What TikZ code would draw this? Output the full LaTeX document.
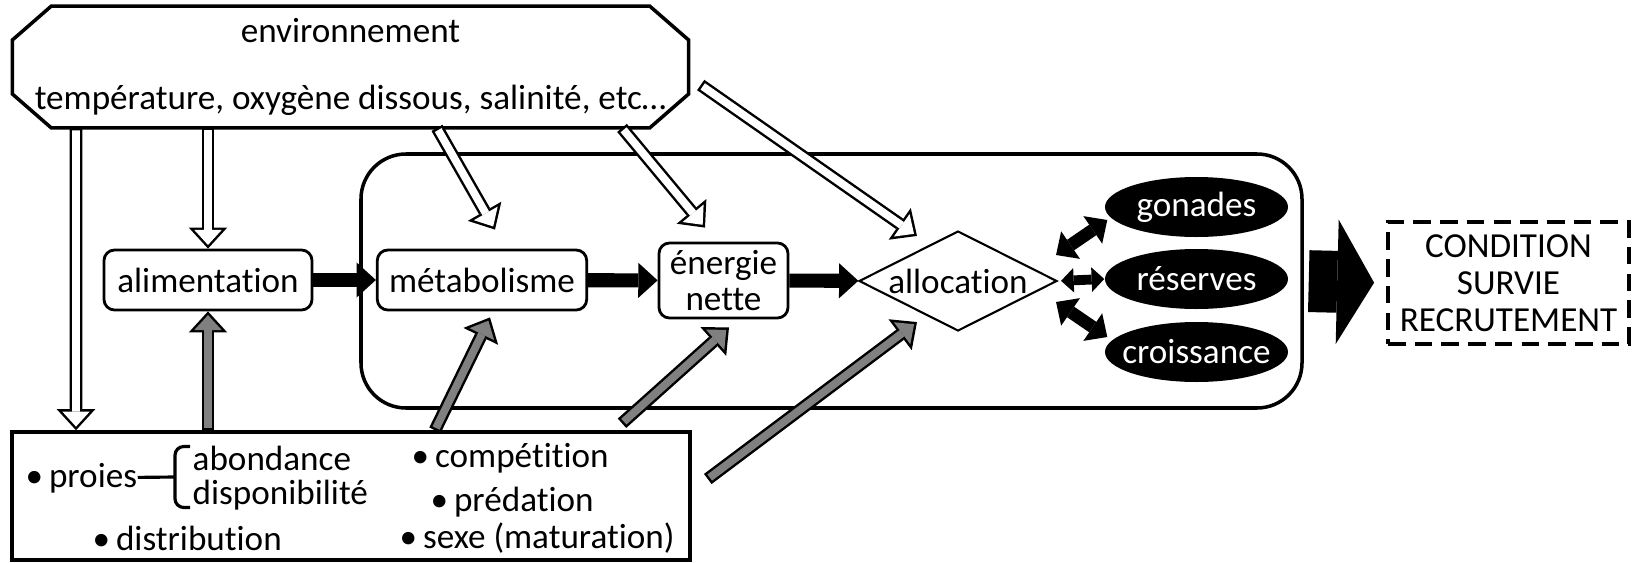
\documentclass[tikz,border=0pt]{standalone}
\usepackage{fontspec}
\setmainfont{Carlito}[Ligatures=NoCommon]
\definecolor{fedgray}{RGB}{128,128,128}
\usetikzlibrary{arrows.meta,positioning,shapes.geometric,calc}
\tikzset{
  stepbox/.style={draw, rounded corners=3pt, line width=0.8pt, minimum height=0.6cm, align=center, font=\fontsize{10}{10.5}\selectfont},
  pool/.style={ellipse, fill=black, text=white, minimum width=1.83cm, minimum height=0.6cm, inner sep=0pt},
  item/.style={anchor=west, inner sep=0pt},
  hollow/.style={line width=3.6pt, draw=black, -{Triangle[length=6pt, width=11pt, line width=0pt]},
    postaction={draw=white, line width=2.2pt, shorten >=1.04pt, shorten <=0.7pt, -{Triangle[length=4.26pt, width=7.8pt, line width=0pt]}}},
  fed/.style={line width=3.6pt, draw=black, -{Triangle[length=6pt, width=11pt, line width=0pt]},
    postaction={draw=fedgray, line width=2.2pt, shorten >=1.04pt, shorten <=0.7pt, -{Triangle[length=4.26pt, width=7.8pt, line width=0pt]}}},
  flow/.style={line width=4pt, -{Triangle[length=5.5pt, width=10pt, line width=0pt]}},
  both/.style={line width=3.6pt, {Triangle[length=5pt, width=9.5pt, line width=0pt]}-{Triangle[length=5pt, width=9.5pt, line width=0pt]}},
  bothsmall/.style={line width=2.8pt, {Triangle[length=3.6pt, width=7pt, line width=0pt]}-{Triangle[length=3.6pt, width=7pt, line width=0pt]}},
}
\begin{document}
\begin{tikzpicture}
  \useasboundingbox (0,0) rectangle (16.33,5.62);
  % environment
  \node[minimum width=6.75cm, minimum height=1.18cm, align=center] (env) at (3.505,4.95) {environnement\\[7pt]température, oxygène dissous, salinité, etc…};
  \draw[line width=1pt] ([xshift=0.39cm]env.north west) -- ([xshift=-0.39cm]env.north east) -- ([yshift=-0.34cm]env.north east) -- ([yshift=0.34cm]env.south east) -- ([xshift=-0.39cm]env.south east) -- ([xshift=0.39cm]env.south west) -- ([yshift=0.34cm]env.south west) -- ([yshift=-0.34cm]env.north west) -- cycle;
  % organism frame
  \node[draw, line width=1pt, rounded corners=0.45cm, minimum width=9.41cm, minimum height=2.54cm] (organism) at (8.315,2.81) {};
  % chain
  \node[stepbox, minimum width=2.08cm] (alim) at (2.08,2.82) {alimentation};
  \node[stepbox, minimum width=2.02cm] (metab) at (4.82,2.82) {métabolisme};
  \node[stepbox, minimum width=1.29cm, minimum height=0.75cm, inner sep=1pt] (nette) at (7.235,2.815) {énergie\\nette};
  \node[diamond, draw, line width=0.6pt, aspect=2, inner sep=0pt, minimum width=1.98cm, minimum height=1cm] (alloc) at (9.58,2.81) {allocation};
  \node[pool] (gonad) at (11.965,3.55) {\makebox[0pt]{gonades}};
  \node[pool] (reserve) at (11.965,2.83) {\makebox[0pt]{réserves}};
  \node[pool] (growth) at (11.965,2.1) {\makebox[0pt]{croissance}};
  % outcome
  \node[draw, line width=1.1pt, dash pattern=on 5pt off 2.6pt, minimum width=2.33cm, minimum height=1.22cm, align=center, font=\fontsize{10}{10.5}\selectfont] (outcome) at (15.085,2.79) {CONDITION\\SURVIE\\RECRUTEMENT};
  % biotic factors
  \node[draw, line width=1pt, minimum width=6.78cm, minimum height=1.28cm] (biotic) at (3.51,0.66) {};
  \node[item] (proies) at (0.25,0.84) {\textbullet\,proies};
  \coordinate (brc) at (1.75,0.85);
  \node[item] (abond) at (1.92,1.04) {abondance};
  \node[item] (dispo) at (1.92,0.67) {disponibilité};
  \node[item] (compet) at (4.11,1.04) {\textbullet\,compétition};
  \node[item] (preda) at (4.3,0.6) {\textbullet\,prédation};
  \node[item] (distrib) at (0.92,0.24) {\textbullet\,distribution};
  \node[item] (sexe) at (3.99,0.24) {\textbullet\,sexe (maturation)};
  \draw[line width=0.9pt] (proies) -- (brc);
  \draw[line width=0.9pt, rounded corners=2.5pt] ($(brc)+(0.15,0.305)$) -- ($(brc)+(0,0.305)$) -- ($(brc)+(0,-0.305)$) -- ($(brc)+(0.15,-0.305)$);
  % environment arrows
  \draw[hollow] ([xshift=-2.745cm]env.south) -- ([xshift=-2.75cm]biotic.north);
  \draw[hollow] (env.south -| alim.north) -- (alim.north);
  \draw[hollow] ([xshift=0.865cm]env.south) -- ([shift={(0.13,0.19)}]metab.north);
  \draw[hollow] ([xshift=2.715cm]env.south) -- ([shift={(-0.185,0.14)}]nette.north);
  \draw[hollow] ([shift={(0.12,-0.18)}]env.east) -- ([shift={(-0.41,-0.06)}]alloc.north);
  % biotic arrows
  \draw[fed] (biotic.north -| alim.south) -- (alim.south);
  \draw[fed] ([xshift=0.84cm]biotic.north) -- ([shift={(0.08,-0.06)}]metab.south);
  \draw[fed] ([shift={(2.71,0.07)}]biotic.north) -- ([shift={(0.055,-0.08)}]nette.south);
  \draw[fed] ([shift={(0.16,0.17)}]biotic.east) -- ([shift={(-0.41,0.1)}]alloc.south);
  % energy flow
  \draw[flow] (alim) -- (metab);
  \draw[flow] (metab) -- (nette);
  \draw[flow] (nette) -- (alloc);
  \draw[both] ([shift={(-0.02,0.26)}]alloc.east) -- ([shift={(0.03,-0.13)}]gonad.west);
  \draw[bothsmall, shorten <=0.03cm] (alloc.east) -- (reserve.west);
  \draw[both] ([shift={(-0.02,-0.21)}]alloc.east) -- ([shift={(0.03,0.15)}]growth.west);
  \draw[line width=17.6pt, shorten <=0.05cm, shorten >=0.12cm, -{Triangle[length=10.5pt, width=35.4pt, line width=0pt]}] (organism.east) -- (outcome.west);
\end{tikzpicture}
\end{document}
